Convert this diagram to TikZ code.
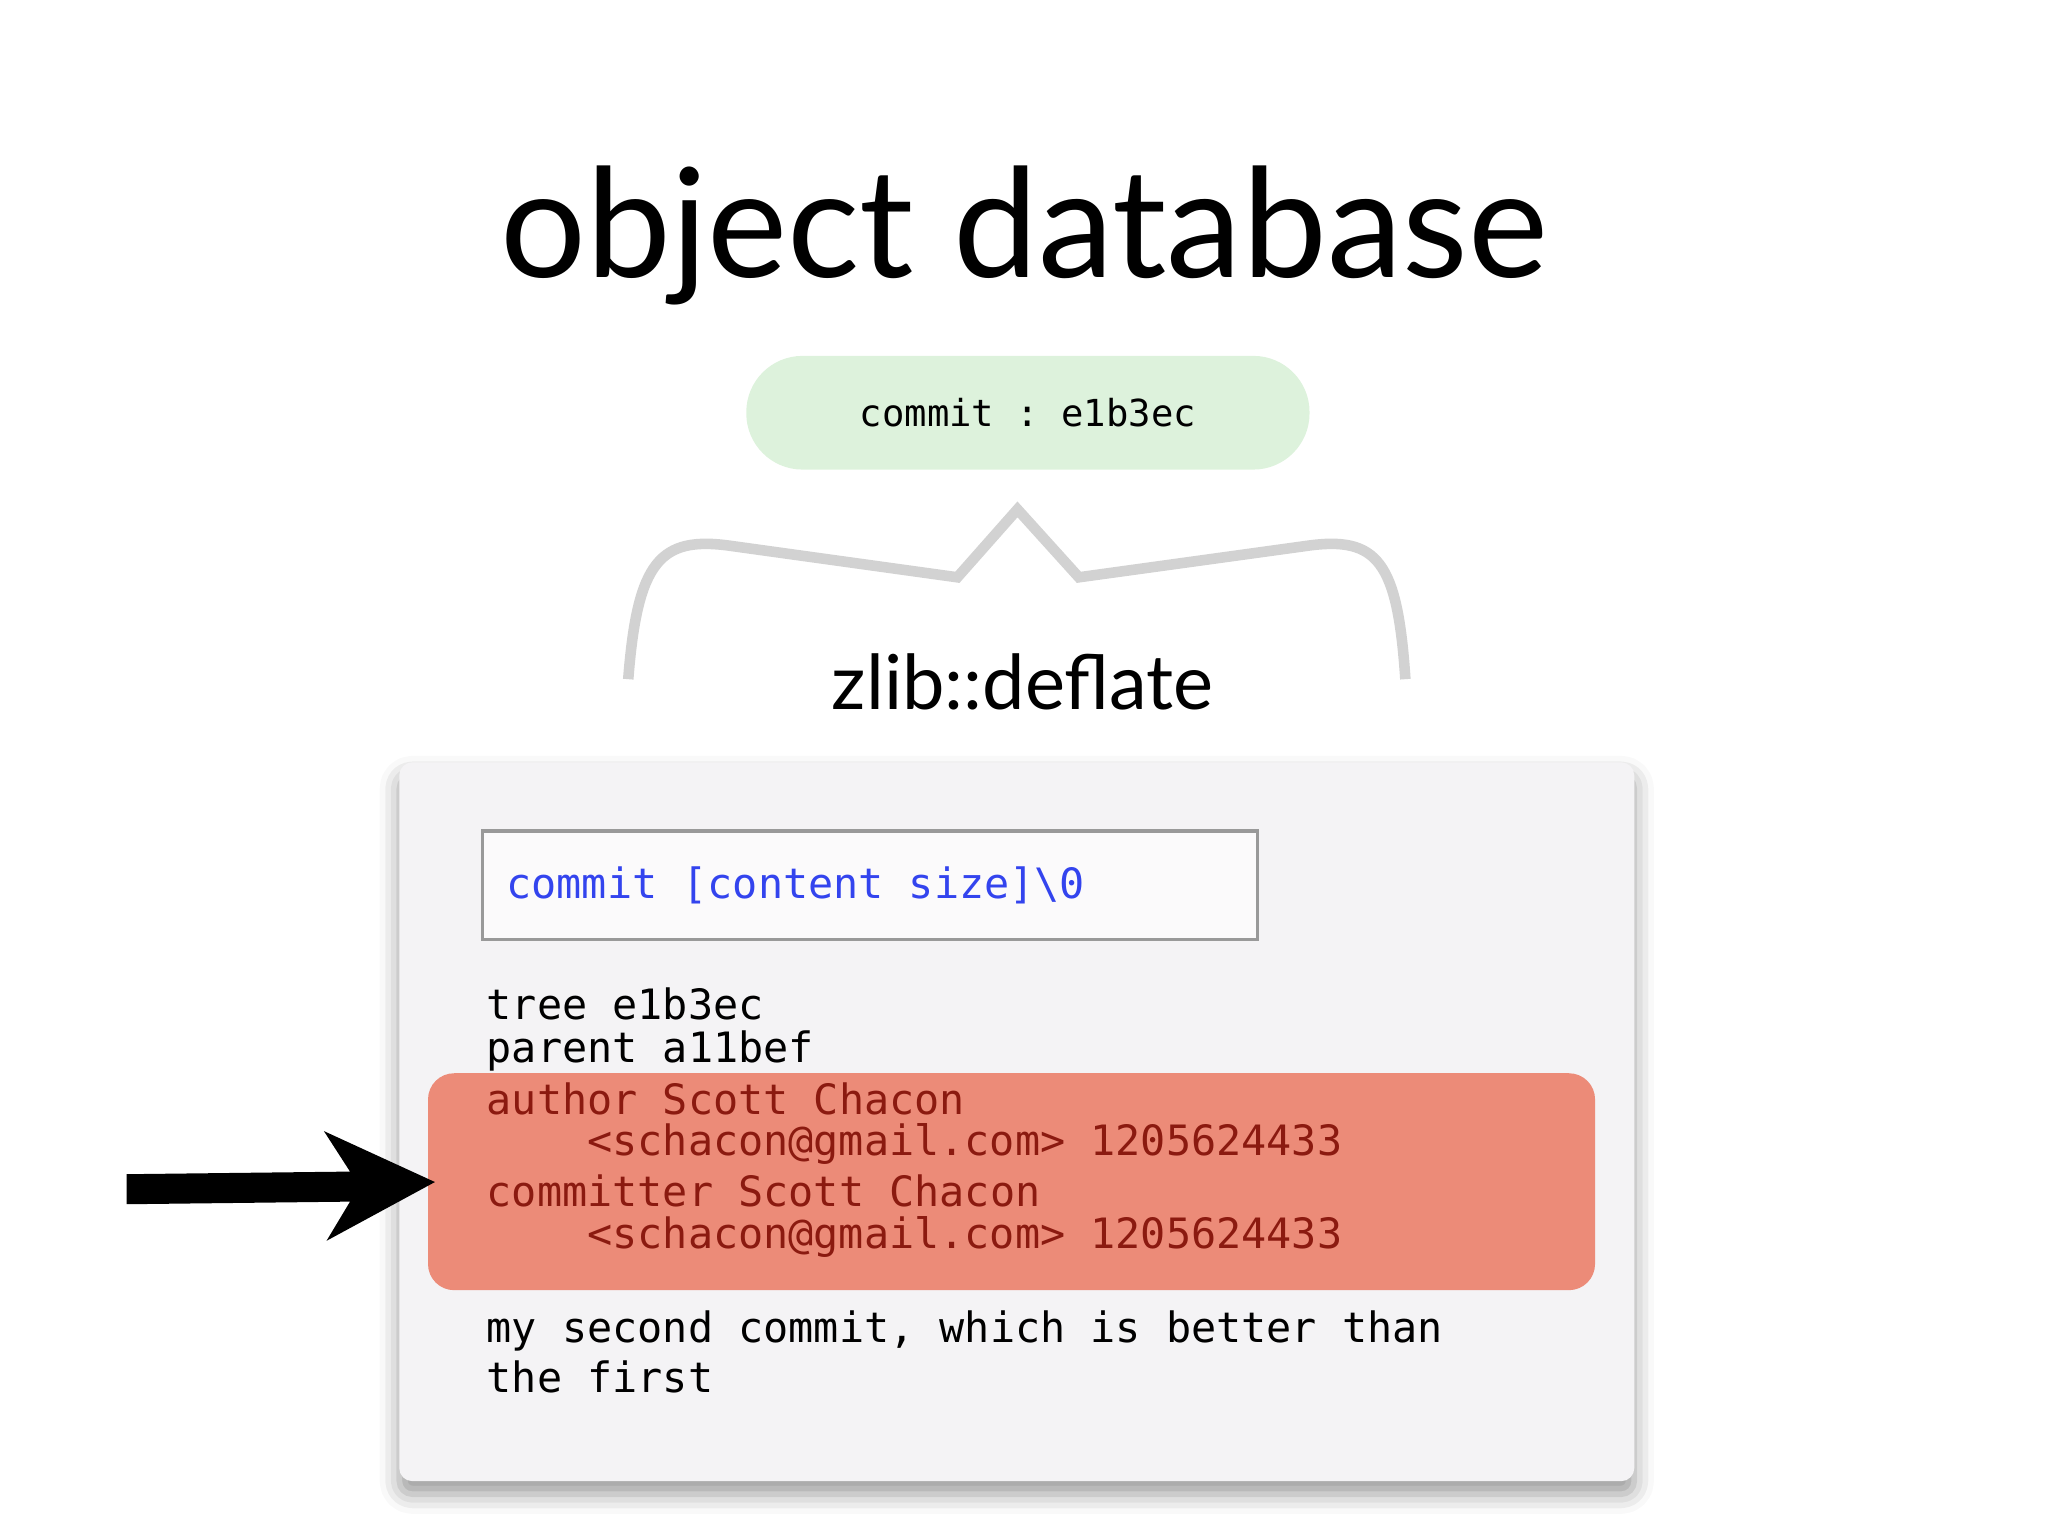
\documentclass[tikz,border=0pt]{standalone}
\usepackage{fontspec}
\setmainfont{Lato}
\setmonofont{DejaVu Sans Mono}
\usetikzlibrary{shadows.blur}
\definecolor{boxbg}{HTML}{F4F3F5}
\definecolor{redbox}{HTML}{EC8B78}
\definecolor{redtxt}{HTML}{8B1A10}
\definecolor{pill}{HTML}{DDF2DC}
\definecolor{bluetxt}{HTML}{3344EE}
\definecolor{brace}{HTML}{D2D2D2}
\tikzset{px/.style={x=0.01cm,y=-0.01cm},
 mono/.style={anchor=west,inner sep=0pt,font=\ttfamily\fontsize{9.1pt}{10pt}\selectfont},
 redl/.style={mono,text=redtxt}}
\begin{document}
\begin{tikzpicture}[px]
\useasboundingbox (0,0) rectangle (1568,1176);
\node (title) at (784,180) {\fontsize{33pt}{36pt}\selectfont object database};
\node[fill=pill,rounded corners=0.43cm,minimum width=4.31cm,minimum height=0.87cm,font=\ttfamily\fontsize{8.1pt}{9pt}\selectfont] (pillnode) at (787,316) {commit : e1b3ec};
\draw[brace,line width=2.3pt] (481,520) .. controls (488,430) and (505,410) .. (560,418) -- (733,442) -- (779,390) -- (826,442) -- (1000,418) .. controls (1055,410) and (1070,430) .. (1076,520);
\node (zlib) at (783,522) {\fontsize{16.5pt}{18pt}\selectfont zlib::deflate};
\node[fill=boxbg,rounded corners=0.1cm,minimum width=9.45cm,minimum height=5.5cm,anchor=north west,blur shadow={shadow xshift=0pt,shadow yshift=-0.1cm,shadow blur radius=0.15cm}] (main) at (305,583) {};
\node[draw=gray!80,fill=white!60!boxbg,line width=0.7pt,minimum width=5.93cm,minimum height=0.83cm,anchor=north west] (hdr) at (368,635) {};
\node[mono,text=bluetxt] at (387,678) {commit [content size]\textbackslash0};
\node[mono] at (372,769) {tree e1b3ec};
\node[mono] at (372,805) {parent a11bef};
\node[fill=redbox,rounded corners=0.2cm,minimum width=8.93cm,minimum height=1.66cm,anchor=north west] (red) at (327,821) {};
\node[redl] at (372,841) {author Scott Chacon};
\node[redl] at (449,876) {<schacon@gmail.com> 1205624433};
\node[redl] at (372,912) {committer Scott Chacon};
\node[redl] at (449,947) {<schacon@gmail.com> 1205624433};
\node[mono] at (372,1019) {my second commit, which is better than};
\node[mono] at (372,1054) {the first};
\coordinate (tail) at (97,910);
\fill[black] (97,899) -- (268,897) -- (248,866) -- (333,905) -- (250,950) -- (268,920) -- (97,922) -- cycle;
\end{tikzpicture}
\end{document}
